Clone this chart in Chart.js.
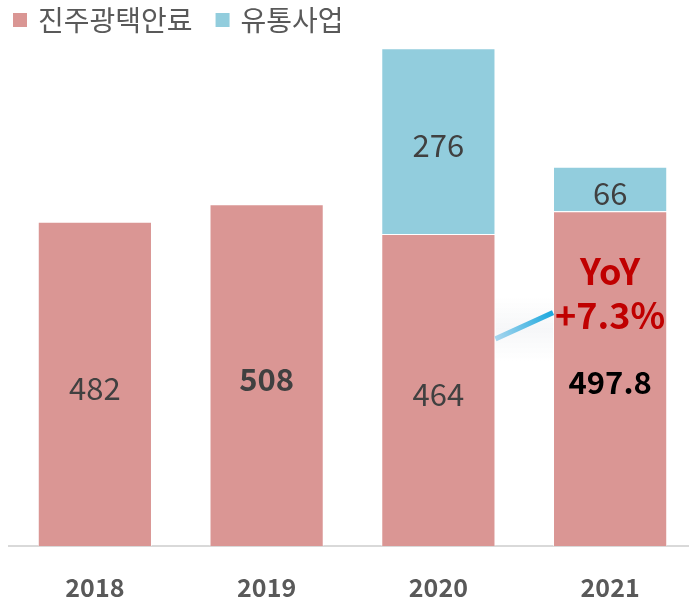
<!DOCTYPE html>
<html>
<head>
<meta charset="utf-8">
<script src="https://cdn.jsdelivr.net/npm/chart.js@4.4.1/dist/chart.umd.min.js"></script>
<style>
  html, body { margin: 0; padding: 0; background: #fff; overflow: hidden; }
  .wrap { width: 696px; height: 600px; }
</style>
</head>
<body>
<div class="wrap"><canvas id="chart"></canvas></div>
<script>
// Data
const years = ["2018", "2019", "2020", "2021"];
const pearlPigment = [482, 508, 464, 497.8];
const distribution = [null, null, 276, 66];
const seriesNames = ["진주광택안료", "유통사업"];
const boldLabels = ["508", "497.8"];
const yoyLines = ["YoY", "+7.3%"];

const FONT = "'Noto Sans CJK KR', 'Noto Sans', sans-serif";

// Simple legend row at the top left (square marker + name)
const legendPlugin = {
  id: "topLegend",
  afterDraw(chart) {
    const ctx = chart.ctx;
    ctx.save();
    ctx.font = "28px " + FONT;
    ctx.textBaseline = "middle";
    ctx.textAlign = "left";
    let x = 13;
    chart.data.datasets.forEach((ds) => {
      ctx.fillStyle = ds.backgroundColor;
      ctx.fillRect(x, 13, 14, 14);
      ctx.fillStyle = "#595959";
      ctx.fillText(ds.label, x + 25, 20);
      x += 25 + ctx.measureText(ds.label).width + 23;
    });
    ctx.restore();
  }
};

// Values inside the bars, YoY note and the little arrow between 2020 and 2021
const overlayPlugin = {
  id: "overlay",
  afterDatasetsDraw(chart) {
    const ctx = chart.ctx;
    const y = chart.scales.y;

    // arrow-ish line from 2020 bar to 2021 bar
    const bar2020 = chart.getDatasetMeta(0).data[2];
    const bar2021 = chart.getDatasetMeta(0).data[3];
    const x0 = bar2020.x + bar2020.width / 2;
    const x1 = bar2021.x - bar2021.width / 2;
    const y0 = y.getPixelForValue(308);
    const y1 = y.getPixelForValue(347);
    ctx.save();
    const shade = ctx.createLinearGradient(0, y.getPixelForValue(370), 0, y.getPixelForValue(275));
    shade.addColorStop(0, "rgba(245, 246, 248, 0)");
    shade.addColorStop(0.5, "rgba(245, 246, 248, 0.9)");
    shade.addColorStop(1, "rgba(245, 246, 248, 0)");
    ctx.fillStyle = shade;
    ctx.fillRect(x0, y.getPixelForValue(370), x1 - x0, y.getPixelForValue(275) - y.getPixelForValue(370));
    const grad = ctx.createLinearGradient(x0, y0, x1, y1);
    grad.addColorStop(0, "#A9D6EE");
    grad.addColorStop(1, "#1AA8DE");
    ctx.strokeStyle = grad;
    ctx.lineWidth = 5;
    ctx.beginPath();
    ctx.moveTo(x0, y0);
    ctx.lineTo(x1, y1);
    ctx.stroke();
    ctx.restore();

    // value labels centred in each segment
    ctx.save();
    ctx.textAlign = "center";
    ctx.textBaseline = "middle";
    chart.data.datasets.forEach((ds, di) => {
      const meta = chart.getDatasetMeta(di);
      meta.data.forEach((bar, i) => {
        const v = ds.data[i];
        if (v == null) return;
        const text = String(v);
        const bold = boldLabels.includes(text);
        const isLast = text === "497.8";
        ctx.font = (bold ? "bold " : "") + "31px " + FONT;
        ctx.fillStyle = isLast ? "#000000" : "#404040";
        const mid = (bar.y + bar.base) / 2;
        ctx.fillText(text, bar.x, mid + 4);
      });
    });

    // YoY annotation on the 2021 bar
    ctx.font = "bold 36px " + FONT;
    ctx.fillStyle = "#C00000";
    ctx.fillText(yoyLines[0], bar2021.x, y.getPixelForValue(408));
    ctx.fillText(yoyLines[1], bar2021.x, y.getPixelForValue(343));
    ctx.restore();
  }
};

new Chart(document.getElementById("chart"), {
  type: "bar",
  data: {
    labels: years,
    datasets: [
      {
        label: seriesNames[0],
        data: pearlPigment,
        backgroundColor: "#DA9694",
        borderColor: "rgba(255,255,255,0.6)",
        borderWidth: 1,
        categoryPercentage: 1,
        barPercentage: 0.665,
      },
      {
        label: seriesNames[1],
        data: distribution,
        backgroundColor: "#92CDDD",
        borderColor: "rgba(255,255,255,0.6)",
        borderWidth: 1,
        categoryPercentage: 1,
        barPercentage: 0.665,
      },
    ],
  },
  options: {
    responsive: true,
    maintainAspectRatio: false,
    animation: false,
    layout: { padding: { left: 9, right: 0, top: 47, bottom: 0 } },
    plugins: {
      legend: { display: false },
      tooltip: { enabled: false },
    },
    scales: {
      x: {
        stacked: true,
        grid: { display: false },
        border: { display: true, color: "#D9D9D9", width: 2 },
        ticks: {
          color: "#595959",
          font: { family: FONT, size: 25, weight: "bold" },
          padding: 18,
        },
        afterFit(scale) { scale.height = 54; },
      },
      y: {
        stacked: true,
        display: false,
        min: 0,
        max: 742,
      },
    },
  },
  plugins: [overlayPlugin, legendPlugin],
});
</script>
</body>
</html>
